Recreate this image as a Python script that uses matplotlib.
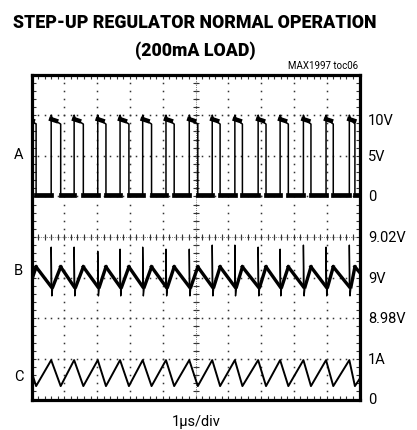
import numpy as np
import matplotlib
matplotlib.use('Agg')
import matplotlib.pyplot as plt
from matplotlib.ticker import MultipleLocator

# switching edges of LX (us, 1us/div, screen starts at 0)
t_rise = [-0.11, 0.60, 1.30, 2.02, 2.70, 3.39, 4.10, 4.81, 5.51, 6.20, 6.91,
          7.58, 8.29, 8.98, 9.69, 10.38]
t_fall = [0.14, 0.89, 1.58, 2.27, 2.97, 3.66, 4.35, 5.07, 5.75, 6.43, 7.15,
          7.83, 8.52, 9.20, 9.86]

# A: LX node, volts (5V/div, 0V at div 5)
a_low = 0.2
a_spike = 10.0
a_top = [9.5, 8.9]
# B: output ripple, volts (20mV/div, 9V at div 3)
b_peak = 9.0053
b_trough = 8.9955
b_spike_up = [9.015, 9.015, 9.015, 9.013, 9.014, 9.015, 9.014, 9.014, 9.016,
              9.016, 9.015, 9.014, 9.016, 9.015, 9.016]
b_spike_dn = 8.991
# C: inductor current, amps (1A/div, 0A at div 0)
c_peak = 0.97
c_trough = 0.33

right_labels = ['10V', '5V', '0', '9.02V', '9V', '8.98V', '1A', '0']
right_pos = [6.88, 6, 5, 4, 3, 2, 1, 0]
chan_labels = ['A', 'B', 'C']
chan_pos = [6.05, 3.19, 0.58]

FONT = ['Roboto', 'DejaVu Sans']


def to_a(v):
    return 5 + np.asarray(v) / 5.0


def to_b(v):
    return 3 + (np.asarray(v) - 9.0) / 0.02


# build the traces from the edge lists
at, av = [], []
for r, f in zip(t_rise, t_fall):
    at += [r, r, r + 0.04, f, f]
    av += [a_low, a_spike, a_top[0], a_top[1], a_low]
at.append(t_rise[-1])
av.append(a_low)

bt, bv = [], []
for r, f, s in zip(t_rise, t_fall, b_spike_up):
    bt += [r, r, r + 0.02, r + 0.05, f]
    bv += [b_trough, s, b_spike_dn, b_trough, b_peak]
bt.append(t_rise[-1])
bv.append(b_trough)

ct, cv = [], []
for r, f in zip(t_rise, t_fall):
    ct += [r, f]
    cv += [c_peak, c_trough]
ct.append(t_rise[-1])
cv.append(c_peak)

fig = plt.figure(figsize=(4.17, 4.31), dpi=100)
ax = fig.add_axes([31.5 / 417, 30.5 / 431, 328 / 417, 325 / 431])
ax.set_xlim(0, 10)
ax.set_ylim(0, 8)

# graticule
ydots = np.arange(0, 8.01, 0.2)
xdots = np.arange(0, 10.01, 0.2)
for k in range(1, 10):
    ax.plot([k] * len(ydots), ydots, ls='none', marker='s', ms=1.1,
            mew=0, color='#333333', zorder=1)
for k in range(1, 8):
    ax.plot(xdots, [k] * len(xdots), ls='none', marker='s', ms=1.1,
            mew=0, color='#333333', zorder=1)
ax.plot(xdots, [4] * len(xdots), ls='none', marker='|', ms=5, mew=0.8,
        color='#333333', zorder=1)
ax.plot(ydots * 0 + 5, ydots, ls='none', marker='_', ms=5, mew=0.8,
        color='#333333', zorder=1)
ax.axhline(4, color='#555555', lw=0.6, ls=(0, (1, 1.5)), zorder=1)
ax.axvline(5, color='#555555', lw=0.6, ls=(0, (1, 1.5)), zorder=1)

# traces
ax.plot(at, to_a(av), color='black', lw=1.1, zorder=3)
for f, r in zip(t_fall, t_rise[1:]):
    ax.plot([f, r], to_a([a_low, a_low]), color='black', lw=3.4, zorder=3)
for r, f in zip(t_rise, t_fall):
    ax.plot([r, r + 0.15], to_a([a_top[0], 9.3]), color='black', lw=3.2,
            zorder=3)
ax.plot(bt, to_b(bv), color='black', lw=1.0, zorder=3)
seg_t, seg_v = [], []
for r, f in zip(t_rise, t_fall):
    seg_t.append([r + 0.05, f])
    seg_v.append([b_trough, b_peak])
for f, r in zip(t_fall, t_rise[1:]):
    seg_t.append([f, r])
    seg_v.append([b_peak, b_trough])
for st, sv in zip(seg_t, seg_v):
    ax.plot(st, to_b(sv), color='black', lw=2.4, zorder=3)
ax.plot(ct, cv, color='black', lw=1.4, zorder=3)

# frame and edge ticks
for sp in ax.spines.values():
    sp.set_linewidth(2.3)
ax.xaxis.set_major_locator(MultipleLocator(1))
ax.yaxis.set_major_locator(MultipleLocator(1))
ax.xaxis.set_minor_locator(MultipleLocator(0.2))
ax.yaxis.set_minor_locator(MultipleLocator(0.2))
ax.tick_params(which='both', direction='in', top=True, right=True,
               labelbottom=False, labelleft=False, length=3, width=0.8,
               color='#333333')

for lab, y in zip(right_labels, right_pos):
    ax.text(10.26, y, lab, ha='left', va='center', fontsize=10.5,
            family=FONT, clip_on=False)
for lab, y in zip(chan_labels, chan_pos):
    ax.text(-0.39, y, lab, ha='center', va='center', fontsize=10.5,
            family=FONT, clip_on=False)

fig.text(195 / 417, 1 - 23.5 / 431, 'STEP-UP REGULATOR NORMAL OPERATION',
         ha='center', va='center', fontsize=12.8, fontweight=900,
         family=FONT)
fig.text(195.5 / 417, 1 - 51 / 431, '(200mA LOAD)', ha='center',
         va='center', fontsize=12.8, fontweight=900, family=FONT)
fig.text(358 / 417, 1 - 66 / 431, 'MAX1997 toc06', ha='right', va='center',
         fontsize=7, family=FONT)
fig.text(196.5 / 417, 1 - 422 / 431, '1\u00b5s/div', ha='center',
         va='center', fontsize=10.5, family=FONT)

fig.savefig('out.png', dpi=100)
